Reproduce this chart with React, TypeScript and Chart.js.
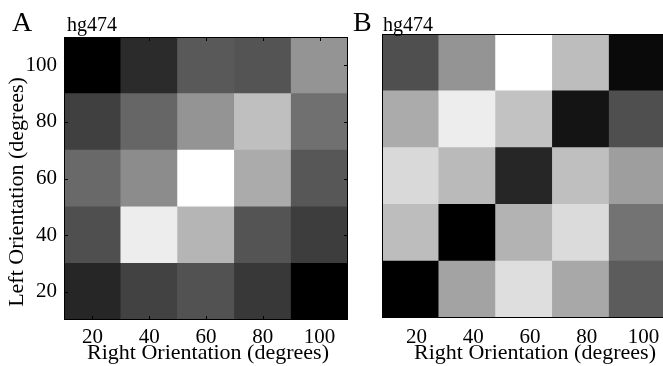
import React, { useEffect, useRef } from 'react';
import { Chart, registerables } from 'chart.js';

Chart.register(...registerables);

// ---------------- data ----------------
const orientations = [20, 40, 60, 80, 100]; // left orientation (rows), degrees
const xTickLabels = ['20', '40', '60', '80', '100']; // right orientation (columns)
const binWidth = 20;

const panelTitle = 'hg474';
const xAxisTitle = 'Right Orientation (degrees)';
const yAxisTitle = 'Left Orientation (degrees)';

// Panel A: normalized response (0 = black, 1 = white), one array per left orientation
const a_L20 = [0.15, 0.26, 0.32, 0.22, 0.0];
const a_L40 = [0.31, 0.93, 0.71, 0.33, 0.24];
const a_L60 = [0.41, 0.55, 1.0, 0.67, 0.34];
const a_L80 = [0.25, 0.4, 0.58, 0.75, 0.44];
const a_L100 = [0.0, 0.17, 0.35, 0.33, 0.58];

// Panel B
const b_L20 = [0.0, 0.64, 0.87, 0.66, 0.36];
const b_L40 = [0.74, 0.0, 0.7, 0.86, 0.45];
const b_L60 = [0.85, 0.73, 0.15, 0.75, 0.62];
const b_L80 = [0.67, 0.93, 0.76, 0.08, 0.31];
const b_L100 = [0.31, 0.58, 1.0, 0.74, 0.04];

const panelA = [a_L20, a_L40, a_L60, a_L80, a_L100];
const panelB = [b_L20, b_L40, b_L60, b_L80, b_L100];

// ---------------- helpers ----------------
const SERIF = "'Liberation Serif', 'Times New Roman', Times, serif";
Chart.defaults.font.family = SERIF;
Chart.defaults.color = '#000';

function gray(v: number) {
  const g = Math.round(Math.max(0, Math.min(1, v)) * 255);
  return `rgb(${g},${g},${g})`;
}

function makeDatasets(rows: number[][]) {
  return orientations.map((yo, r) => ({
    data: xTickLabels.map(() => [yo - binWidth / 2, yo + binWidth / 2]),
    backgroundColor: rows[r].map(gray),
    borderWidth: 0,
    grouped: false,
    barPercentage: 1,
    categoryPercentage: 1,
  }));
}

function framePlugin(withTicks: boolean) {
  return {
    id: 'frame',
    afterDatasetsDraw(chart: any) {
      const { ctx, chartArea } = chart;
      const { left, right, top, bottom } = chartArea;
      ctx.save();
      ctx.strokeStyle = '#000';
      ctx.lineWidth = 1;
      if (withTicks) {
        const xs = chart.scales.x;
        const ys = chart.scales.y;
        ctx.beginPath();
        xTickLabels.forEach((_, i) => {
          const px = Math.round(xs.getPixelForValue(i)) + 0.5;
          ctx.moveTo(px, bottom);
          ctx.lineTo(px, bottom - 4);
          ctx.moveTo(px, top);
          ctx.lineTo(px, top + 4);
        });
        orientations.forEach((v) => {
          const py = Math.round(ys.getPixelForValue(v)) + 0.5;
          ctx.moveTo(left, py);
          ctx.lineTo(left + 4, py);
          ctx.moveTo(right, py);
          ctx.lineTo(right - 4, py);
        });
        ctx.stroke();
      }
      ctx.strokeRect(
        Math.round(left) + 0.5,
        Math.round(top) + 0.5,
        Math.round(right - left) - 1,
        Math.round(bottom - top) - 1
      );
      ctx.restore();
    },
  };
}

type PanelProps = {
  rows: number[][];
  canvasLeft: number;
  canvasWidth: number;
  height: number;
  padding: { left: number; right: number; top: number; bottom: number };
  yAxisWidth: number;
  xAxisHeight: number;
  showY: boolean;
  xLabelOffset: number;
  xLabelPadding: number;
  withTicks: boolean;
};

function HeatPanel(p: PanelProps) {
  const ref = useRef<HTMLCanvasElement | null>(null);
  useEffect(() => {
    if (!ref.current) return;
    const chart = new Chart(ref.current, {
      type: 'bar',
      data: { labels: xTickLabels, datasets: makeDatasets(p.rows) as any },
      options: {
        animation: false,
        responsive: false,
        devicePixelRatio: 1,
        events: [],
        layout: { padding: p.padding },
        plugins: { legend: { display: false }, tooltip: { enabled: false }, title: { display: false } },
        scales: {
          x: {
            type: 'category',
            offset: true,
            grid: { display: false, drawTicks: false },
            border: { display: false },
            ticks: {
              font: { size: 21, family: SERIF },
              color: '#000',
              padding: p.xLabelPadding,
              labelOffset: p.xLabelOffset,
              maxRotation: 0,
              autoSkip: false,
            },
            afterFit: (s: any) => {
              s.height = p.xAxisHeight;
            },
          },
          y: {
            type: 'linear',
            display: p.showY,
            min: orientations[0] - binWidth / 2,
            max: orientations[orientations.length - 1] + binWidth / 2,
            grid: { display: false, drawTicks: false },
            border: { display: false },
            afterBuildTicks: (s: any) => {
              s.ticks = orientations.map((v) => ({ value: v }));
            },
            ticks: {
              font: { size: 21, family: SERIF },
              color: '#000',
              padding: 7,
            },
            afterFit: (s: any) => {
              s.width = p.yAxisWidth;
            },
          },
        },
      } as any,
      plugins: [framePlugin(p.withTicks)],
    });
    return () => chart.destroy();
  }, []);
  return (
    <canvas
      ref={ref}
      width={p.canvasWidth}
      height={p.height}
      style={{ position: 'absolute', left: p.canvasLeft, top: 0, width: p.canvasWidth, height: p.height }}
    />
  );
}

const textBase: React.CSSProperties = {
  position: 'absolute',
  fontFamily: SERIF,
  lineHeight: 1,
  whiteSpace: 'nowrap',
  color: '#000',
};

export default function App() {
  return (
    <div
      style={{
        position: 'absolute',
        left: 0,
        top: 0,
        width: 663,
        height: 366,
        overflow: 'hidden',
        background: '#fff',
      }}
    >
      <HeatPanel
        rows={panelA}
        canvasLeft={0}
        canvasWidth={360}
        height={366}
        padding={{ left: 0, right: 12, top: 37, bottom: 0 }}
        yAxisWidth={64}
        xAxisHeight={46}
        showY={true}
        xLabelOffset={0}
        xLabelPadding={5}
        withTicks={true}
      />
      <HeatPanel
        rows={panelB}
        canvasLeft={355}
        canvasWidth={330}
        height={366}
        padding={{ left: 27, right: 19, top: 34, bottom: 0 }}
        yAxisWidth={0}
        xAxisHeight={48}
        showY={false}
        xLabelOffset={6}
        xLabelPadding={7}
        withTicks={false}
      />
      {/* panel letters and titles */}
      <div style={{ ...textBase, left: 12, top: 8, fontSize: 28 }}>A</div>
      <div style={{ ...textBase, left: 67, top: 14, fontSize: 20 }}>{panelTitle}</div>
      <div style={{ ...textBase, left: 353, top: 8, fontSize: 28 }}>B</div>
      <div style={{ ...textBase, left: 383, top: 14, fontSize: 20 }}>{panelTitle}</div>
      {/* axis titles */}
      <div style={{ ...textBase, left: 208 - 150, width: 300, textAlign: 'center', top: 341, fontSize: 22 }}>
        {xAxisTitle}
      </div>
      <div style={{ ...textBase, left: 535 - 150, width: 300, textAlign: 'center', top: 341, fontSize: 22 }}>
        {xAxisTitle}
      </div>
      <div
        style={{
          ...textBase,
          left: 15.6 - 150,
          top: 191.7 - 11,
          width: 300,
          height: 22,
          textAlign: 'center',
          fontSize: 22,
          transform: 'rotate(-90deg)',
          transformOrigin: 'center center',
        }}
      >
        {yAxisTitle}
      </div>
    </div>
  );
}
